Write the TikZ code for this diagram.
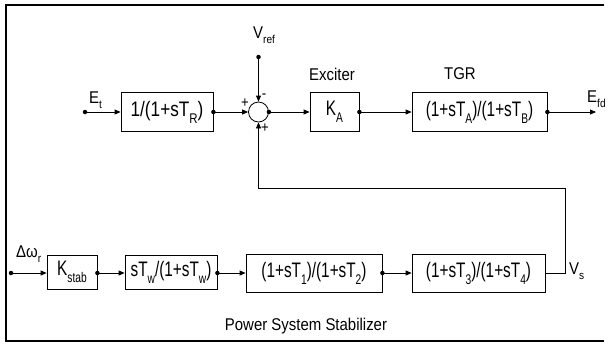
\documentclass[tikz,border=0pt]{standalone}
\usepackage{fontspec}
\setmainfont[FakeStretch=0.88]{Liberation Sans}
\newfontfamily\boxfont[FakeStretch=0.73]{Liberation Sans}
\usetikzlibrary{arrows.meta}
\newcommand\sbx[1]{\raisebox{-0.33em}{\fontsize{14}{14}\selectfont #1}}
\newcommand\sbl[1]{\raisebox{-0.33em}{\fontsize{11.5}{11.5}\selectfont #1}}
\begin{document}
\begin{tikzpicture}[x=1pt,y=-1pt,
  font=\fontsize{17}{20}\selectfont,
  blk/.style={draw, line width=0.8pt, inner sep=0pt, minimum height=39pt, font=\boxfont\fontsize{21}{24}\selectfont},
  blks/.style={blk, minimum height=34pt},
  blkt/.style={blk, minimum height=38pt},
  arr/.style={-{Triangle[length=6pt,width=5pt]}, line width=0.8pt},
  dotn/.style={circle, fill, inner sep=0pt, minimum size=4.5pt},
  lbl/.style={inner sep=0pt, anchor=base},
  sgn/.style={inner sep=0pt, font=\fontsize{15}{15}\selectfont}]
\useasboundingbox (0,0) rectangle (609,343);
% frame
\draw[line width=2pt] (604,5) -- (6,5) -- (6,341) -- (604,341);
% top row
\node[dotn] (et) at (85,112) {};
\node[blk, minimum width=92pt] (b1) at (167,112) {\scalebox{1.12}[1]{1/(1+sT\sbx{R})}};
\node[circle, draw, line width=0.8pt, minimum size=20pt, inner sep=0pt] (sum) at (258.5,112) {};
\node[dotn] (vref) at (258.5,57) {};
\node[blk, minimum width=49pt] (ka) at (334.5,112) {K\sbx{A}};
\node[blk, minimum width=135pt] (tgr) at (479.5,112) {(1+sT\sbx{A})/(1+sT\sbx{B})};
\coordinate (efd) at (596,112);
% labels top
\node[lbl, anchor=base west] (etl) at (89,103) {E\sbl{t}};
\node[lbl, anchor=base west] (vrefl) at (253,38) {V\sbl{ref}};
\node[lbl] (exc) at (332,80) {Exciter};
\node[lbl] (tgrl) at (460,79) {TGR};
\node[lbl, anchor=base west] (efdl) at (587,102) {E\sbl{fd}};
\node[sgn] (s1) at (245,103) {+};
\node[sgn] (s2) at (264,96) {-};
\node[sgn] (s3) at (265,128) {+};
% top connectors
\draw[arr] (et) -- (b1.west);
\node[dotn] (d1) at (b1.east) {};
\draw[arr] (b1.east) -- (sum.west);
\draw[arr] (vref) -- (sum.north);
\node[dotn] (d2) at (sum.east) {};
\draw[arr] (sum.east) -- (ka.west);
\node[dotn] (d3) at (ka.east) {};
\draw[arr] (ka.east) -- (tgr.west);
\node[dotn] (d4) at (tgr.east) {};
\draw[arr] (tgr.east) -- (efd);
% bottom row
\node[dotn] (dw) at (11,273) {};
\node[blks, minimum width=50pt] (ks) at (72,272) {K\sbx{stab}};
\node[blks, minimum width=92pt] (stw) at (171,272) {sT\sbx{w}/(1+sT\sbx{w})};
\node[blkt, minimum width=136pt] (t12) at (314,273) {(1+sT\sbx{1})/(1+sT\sbx{2})};
\node[blkt, minimum width=133pt] (t34) at (478.5,273) {(1+sT\sbx{3})/(1+sT\sbx{4})};
\coordinate (fb) at (565,188);
\node[lbl, anchor=base west] (dwl) at (16,257) {Δω\sbl{r}};
\node[lbl, anchor=base west] (vsl) at (569,274) {V\sbl{s}};
\node[lbl] (pss) at (306,330) {Power System Stabilizer};
\draw[arr] (dw) -- (ks.west |- dw);
\node[dotn] (d5) at (ks.east |- dw) {};
\draw[arr] (d5.center) -- (stw.west |- dw);
\node[dotn] (d6) at (stw.east |- dw) {};
\draw[arr] (d6.center) -- (t12.west);
\node[dotn] (d7) at (t12.east) {};
\draw[arr] (t12.east) -- (t34.west);
\draw[arr] (t34.east) -| (fb) -| (sum.south);
\end{tikzpicture}
\end{document}
